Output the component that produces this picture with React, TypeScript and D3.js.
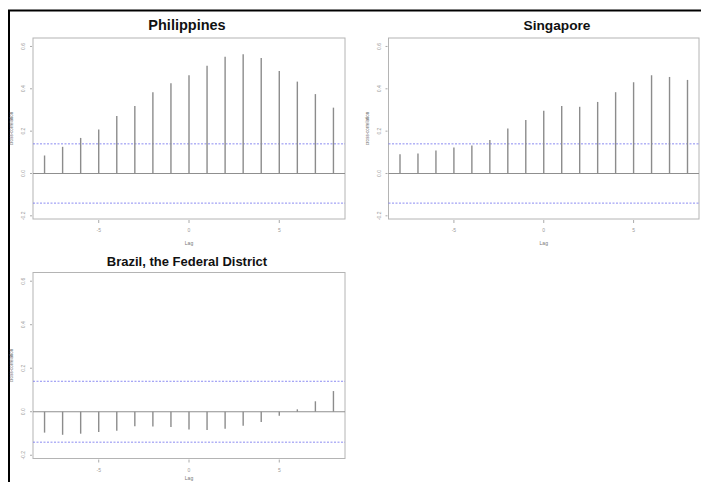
import React from "react";
import * as d3 from "d3";

const lags = [-8, -7, -6, -5, -4, -3, -2, -1, 0, 1, 2, 3, 4, 5, 6, 7, 8];

const philippines = [
  0.085, 0.126, 0.168, 0.208, 0.272, 0.319, 0.384, 0.426, 0.464, 0.509, 0.552,
  0.563, 0.546, 0.484, 0.434, 0.375, 0.311,
];

const singapore = [
  0.091, 0.094, 0.108, 0.123, 0.132, 0.158, 0.212, 0.253, 0.296, 0.319, 0.315,
  0.338, 0.384, 0.431, 0.464, 0.456, 0.442,
];

const brazil = [
  -0.096, -0.106, -0.101, -0.093, -0.087, -0.067, -0.068, -0.07, -0.082, -0.084,
  -0.078, -0.064, -0.047, -0.019, 0.011, 0.048, 0.095,
];

const xTicks = [-5, 0, 5];
const yTicks = [-0.2, 0, 0.2, 0.4, 0.6];
const confLimit = 0.14;

type PanelProps = {
  title: string;
  values: number[];
  left: number;
  top: number;
  width: number;
  height: number;
  titleX: number;
  titleY: number;
  titleSize: number;
  lagGap: number;
};

const font = "'Liberation Sans', Arial, sans-serif";

const Panel = ({ title, values, left, top, width, height, titleX, titleY, titleSize, lagGap }: PanelProps) => {
  const x = d3.scaleLinear().domain([-8.64, 8.64]).range([left, left + width]);
  const y = d3.scaleLinear().domain([-0.215, 0.64]).range([top + height, top]);
  const bottom = top + height;

  return (
    <g>
      <text x={titleX} y={titleY} textAnchor="middle" fontFamily={font} fontWeight="bold" fontSize={titleSize} fill="#111">
        {title}
      </text>
      <rect x={left} y={top} width={width} height={height} fill="none" stroke="#b4b4b4" strokeWidth={1} />
      {/* zero line */}
      <line x1={left} x2={left + width} y1={y(0)} y2={y(0)} stroke="#8f8f8f" strokeWidth={1.2} />
      {/* confidence limits */}
      {[confLimit, -confLimit].map((c) => (
        <line
          key={c}
          x1={left}
          x2={left + width}
          y1={y(c)}
          y2={y(c)}
          stroke="#7070f0"
          strokeWidth={1}
          strokeDasharray="2,1.5"
          opacity={0.8}
        />
      ))}
      {values.map((v, i) => (
        <line
          key={lags[i]}
          x1={x(lags[i])}
          x2={x(lags[i])}
          y1={y(0)}
          y2={y(v)}
          stroke="#8c8c8c"
          strokeWidth={1.4}
        />
      ))}
      {/* y axis */}
      {yTicks.map((t) => (
        <g key={t}>
          <line x1={left - 3} x2={left - 1} y1={y(t)} y2={y(t)} stroke="#aaa" />
          <text
            transform={`translate(${left - 8},${y(t)}) rotate(-90)`}
            textAnchor="middle"
            fontFamily={font}
            fontSize={5}
            fill="#999"
          >
            {t.toFixed(1)}
          </text>
        </g>
      ))}
      <text
        transform={`translate(${left - 20},${(top + bottom) / 2}) rotate(-90)`}
        textAnchor="middle"
        fontFamily={font}
        fontSize={4.5}
        fill="#666"
      >
        cross-correlation
      </text>
      {/* x axis */}
      {xTicks.map((t) => (
        <g key={t}>
          <line x1={x(t)} x2={x(t)} y1={bottom + 1} y2={bottom + 4} stroke="#aaa" />
          <text x={x(t)} y={bottom + 13} textAnchor="middle" fontFamily={font} fontSize={5} fill="#999">
            {String(t)}
          </text>
        </g>
      ))}
      <text x={x(0)} y={bottom + lagGap} textAnchor="middle" fontFamily={font} fontSize={5} fill="#777">
        Lag
      </text>
    </g>
  );
};

export default function App() {
  return (
    <svg width={701} height={482} style={{ position: "absolute", left: 0, top: 0, background: "#fff" }}>
      <rect x={0} y={0} width={701} height={482} fill="#fff" />
      <line x1={8} x2={701} y1={10.5} y2={10.5} stroke="#000" strokeWidth={2} />
      <line x1={9} x2={9} y1={10} y2={482} stroke="#000" strokeWidth={2} />
      <Panel
        title="Philippines"
        values={philippines}
        left={33}
        top={38}
        width={312}
        height={181}
        titleX={187}
        titleY={30}
        titleSize={14.5}
        lagGap={26}
      />
      <Panel
        title="Singapore"
        values={singapore}
        left={388.5}
        top={38}
        width={310.5}
        height={181}
        titleX={557}
        titleY={30}
        titleSize={13.7}
        lagGap={26}
      />
      <Panel
        title="Brazil, the Federal District"
        values={brazil}
        left={33}
        top={272.5}
        width={312}
        height={186}
        titleX={187}
        titleY={266}
        titleSize={13}
        lagGap={21.5}
      />
    </svg>
  );
}
